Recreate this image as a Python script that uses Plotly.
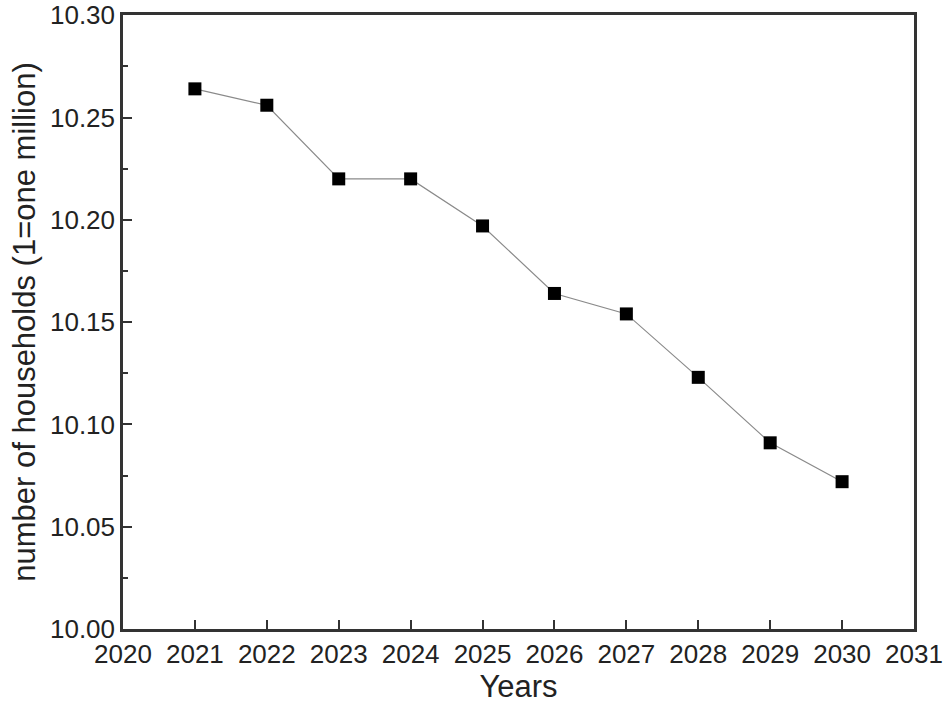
import plotly.graph_objects as go

years = [2021, 2022, 2023, 2024, 2025, 2026, 2027, 2028, 2029, 2030]
households = [10.264, 10.256, 10.220, 10.220, 10.197, 10.164, 10.154, 10.123, 10.091, 10.072]

fig = go.Figure(go.Scatter(
    x=years, y=households,
    mode="lines+markers",
    line=dict(color="#8a8a8a", width=1.2),
    marker=dict(symbol="square", size=13, color="black"),
))

axis_common = dict(
    showline=True, linecolor="#333333", linewidth=2.5, mirror=True,
    ticks="inside", tickcolor="#333333", tickwidth=2, ticklen=9,
    showgrid=False, zeroline=False, automargin=False,
    ticklabeloverflow="allow",
    tickfont=dict(family="Liberation Sans, Arial", size=26, color="#222222"),
    title_font=dict(family="Liberation Sans, Arial", size=31, color="#222222"),
)

fig.update_xaxes(
    range=[2020, 2031], dtick=1, tick0=2020,
    title_text="Years", title_standoff=4,
    **axis_common,
)
fig.update_yaxes(
    range=[10.0, 10.3001], dtick=0.05, tick0=10.0, tickformat=".2f",
    title_text="number of households (1=one million)", title_standoff=6,
    minor=dict(dtick=0.025, ticks="inside", ticklen=5, tickcolor="#333333", tickwidth=2),
    **axis_common,
)

fig.update_layout(
    width=944, height=708,
    margin=dict(l=123, r=30, t=15, b=79),
    plot_bgcolor="white", paper_bgcolor="white",
    showlegend=False,
)

fig.write_html("out.html", config={"displayModeBar": False},
               post_script="document.body.style.margin='0';")
